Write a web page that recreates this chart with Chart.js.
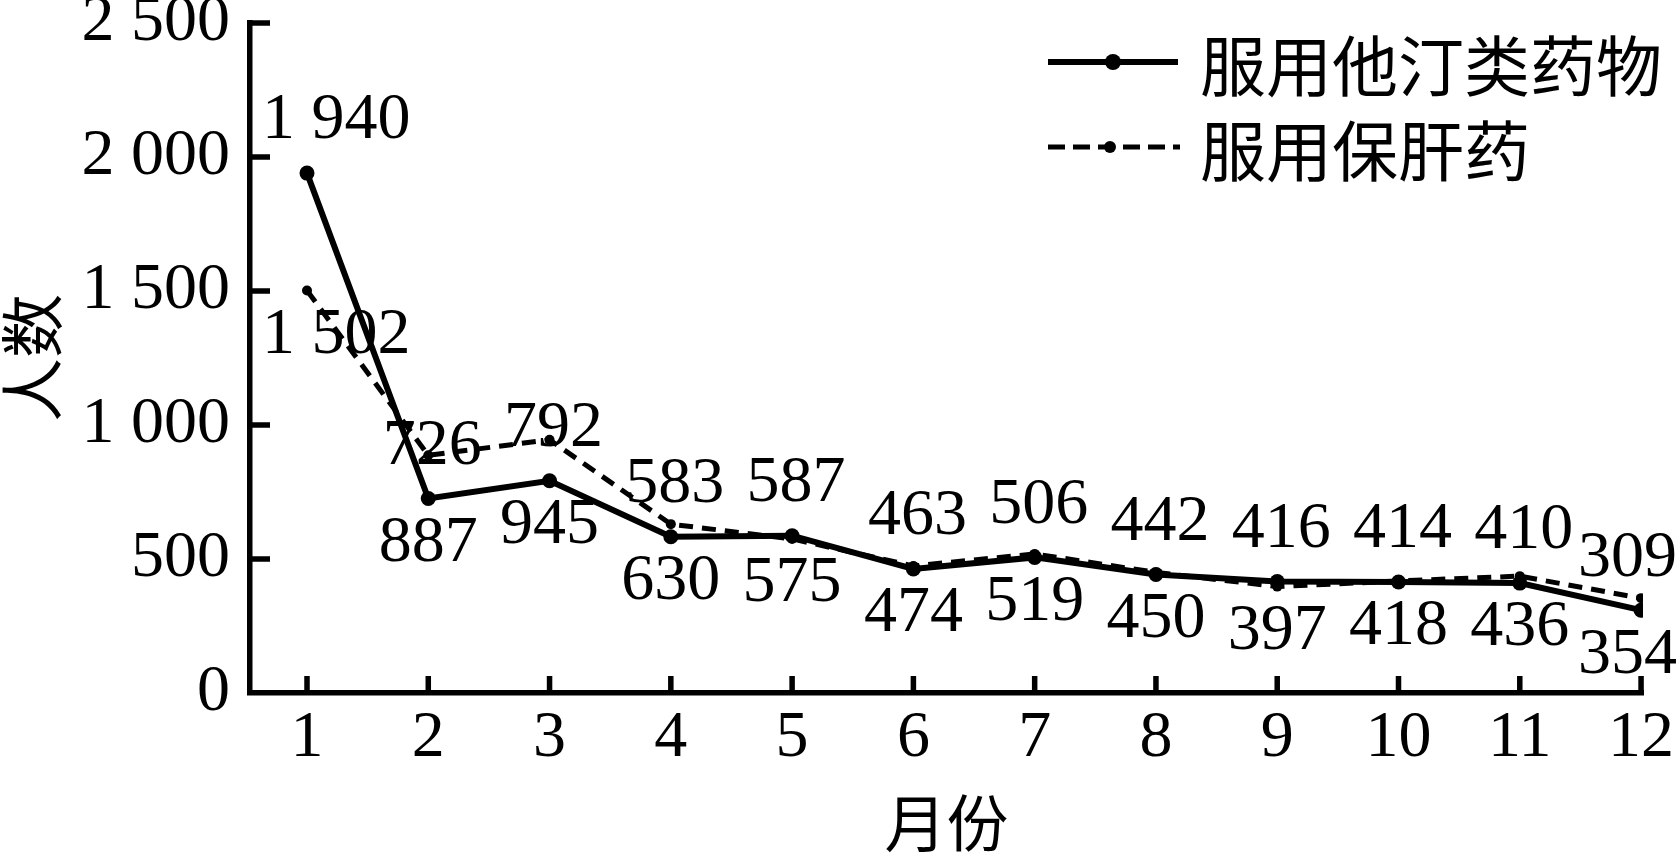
<!DOCTYPE html>
<html>
<head>
<meta charset="utf-8">
<script src="https://cdn.jsdelivr.net/npm/chart.js@4.4.1/dist/chart.umd.min.js"></script>
<style>
html,body{margin:0;padding:0;background:#fff;}
canvas{display:block;}
</style>
</head>
<body>
<canvas id="c" width="1679" height="854"></canvas>
<script>
// ---- data ----
const months = [1, 2, 3, 4, 5, 6, 7, 8, 9, 10, 11, 12];
const statinValues = [1940, 726, 792, 583, 587, 463, 506, 442, 416, 414, 410, 309];
const liverValues = [1502, 887, 945, 630, 575, 474, 519, 450, 397, 418, 436, 354];
const yTickValues = [0, 500, 1000, 1500, 2000, 2500];
const seriesNames = ['服用他汀类药物', '服用保肝药'];
const xTitle = '月份';
const yTitle = '人数';

const SERIF = '"Liberation Serif", "DejaVu Serif", serif';
const CJK = '"Noto Sans CJK SC", sans-serif';

function fmt(v) {
  if (v >= 1000) return Math.floor(v / 1000) + ' ' + String(v % 1000).padStart(3, '0');
  return String(v);
}

const tickMarks = {
  id: 'tickMarks',
  afterDraw(chart) {
    const ctx = chart.ctx, xs = chart.scales.x, ys = chart.scales.y;
    const ca = chart.chartArea;
    ctx.save();
    ctx.strokeStyle = '#000';
    ctx.lineWidth = 5.5;
    ctx.beginPath();
    ys.ticks.forEach(t => {
      if (t.value === 0) return;
      const py = ys.getPixelForValue(t.value);
      ctx.moveTo(ca.left, py); ctx.lineTo(ca.left + 20, py);
    });
    xs.ticks.forEach(t => {
      const px = xs.getPixelForValue(t.value);
      ctx.moveTo(px, ca.bottom); ctx.lineTo(px, ca.bottom - 17);
    });
    ctx.stroke();
    ctx.restore();
  }
};

const dataLabels = {
  id: 'dataLabels',
  afterDatasetsDraw(chart) {
    const ctx = chart.ctx;
    const m0 = chart.getDatasetMeta(0), m1 = chart.getDatasetMeta(1);
    ctx.save();
    ctx.font = '66px ' + SERIF;
    ctx.fillStyle = '#000';
    ctx.textAlign = 'center';
    ctx.textBaseline = 'middle';
    const place = (txt, x, y) => {
      const w = ctx.measureText(txt).width;
      let cx = x;
      if (cx - w / 2 < 262) cx = 262 + w / 2;
      if (cx + w / 2 > 1677) cx = 1677 - w / 2;
      ctx.fillText(txt, cx, y);
    };
    months.forEach((mo, i) => {
      const p0 = m0.data[i], p1 = m1.data[i];
      place(fmt(statinValues[i]), p0.x + 4, p0.y - 52);
      place(fmt(liverValues[i]), p0.x, Math.max(p0.y, p1.y) + 45);
    });
    ctx.restore();
  }
};

const customLegend = {
  id: 'customLegend',
  afterDraw(chart) {
    const ctx = chart.ctx;
    ctx.save();
    ctx.strokeStyle = '#000';
    ctx.fillStyle = '#000';
    ctx.lineWidth = 6;
    ctx.setLineDash([]);
    ctx.beginPath(); ctx.moveTo(1048, 62); ctx.lineTo(1178, 62); ctx.stroke();
    ctx.beginPath(); ctx.arc(1113, 62, 8, 0, Math.PI * 2); ctx.fill();
    ctx.lineWidth = 5;
    ctx.setLineDash([17, 8]);
    ctx.beginPath(); ctx.moveTo(1048, 147); ctx.lineTo(1180, 147); ctx.stroke();
    ctx.setLineDash([]);
    ctx.beginPath(); ctx.arc(1110, 147, 6, 0, Math.PI * 2); ctx.fill();
    ctx.font = '66px ' + CJK;
    ctx.textAlign = 'left';
    ctx.textBaseline = 'middle';
    ctx.fillText(seriesNames[0], 1200, 66);
    ctx.fillText(seriesNames[1], 1200, 151);
    ctx.restore();
  }
};

new Chart(document.getElementById('c'), {
  type: 'line',
  data: {
    datasets: [
      {
        label: seriesNames[0],
        data: months.map((m, i) => ({ x: m, y: statinValues[i] })),
        borderColor: '#000',
        backgroundColor: '#000',
        borderWidth: 6,
        pointRadius: 7.5,
        pointStyle: 'circle',
        pointBackgroundColor: '#000',
        pointBorderWidth: 0,
        tension: 0,
        fill: false
      },
      {
        label: seriesNames[1],
        data: months.map((m, i) => ({ x: m, y: liverValues[i] })),
        borderColor: '#000',
        backgroundColor: '#000',
        borderWidth: 5,
        borderDash: [14, 9],
        pointRadius: 5,
        pointStyle: 'circle',
        pointBackgroundColor: '#000',
        pointBorderWidth: 0,
        tension: 0,
        fill: false
      }
    ]
  },
  options: {
    responsive: false,
    animation: false,
    devicePixelRatio: 1,
    layout: { padding: { left: 0, right: 36, top: 23, bottom: 0 } },
    plugins: { legend: { display: false }, tooltip: { enabled: false } },
    scales: {
      x: {
        type: 'linear',
        min: 0.53,
        max: 12.016,
        afterBuildTicks: s => { s.ticks = months.map(v => ({ value: v })); },
        afterFit: s => { s.height = 161; s.paddingLeft = 0; s.paddingRight = 0; },
        grid: { display: false, drawTicks: false },
        border: { display: true, color: '#000', width: 5.5 },
        ticks: {
          color: '#000',
          font: { family: SERIF, size: 66 },
          padding: 6,
          autoSkip: false,
          maxRotation: 0,
          callback: v => String(v)
        },
        title: {
          display: true,
          text: xTitle,
          color: '#000',
          font: { family: CJK, size: 62, lineHeight: 1 },
          padding: { top: 0, bottom: 0 }
        }
      },
      y: {
        min: 0,
        max: 2500,
        afterBuildTicks: s => { s.ticks = yTickValues.map(v => ({ value: v })); },
        afterFit: s => { s.width = 250; s.paddingTop = 0; s.paddingBottom = 0; },
        grid: { display: false, drawTicks: false },
        border: { display: true, color: '#000', width: 5.5 },
        ticks: {
          color: '#000',
          font: { family: SERIF, size: 66 },
          padding: 20,
          callback: v => fmt(v)
        },
        title: {
          display: true,
          text: yTitle,
          color: '#000',
          font: { family: CJK, size: 64, lineHeight: 1 },
          padding: { top: 0, bottom: 0 }
        }
      }
    }
  },
  plugins: [tickMarks, dataLabels, customLegend]
});
</script>
</body>
</html>
